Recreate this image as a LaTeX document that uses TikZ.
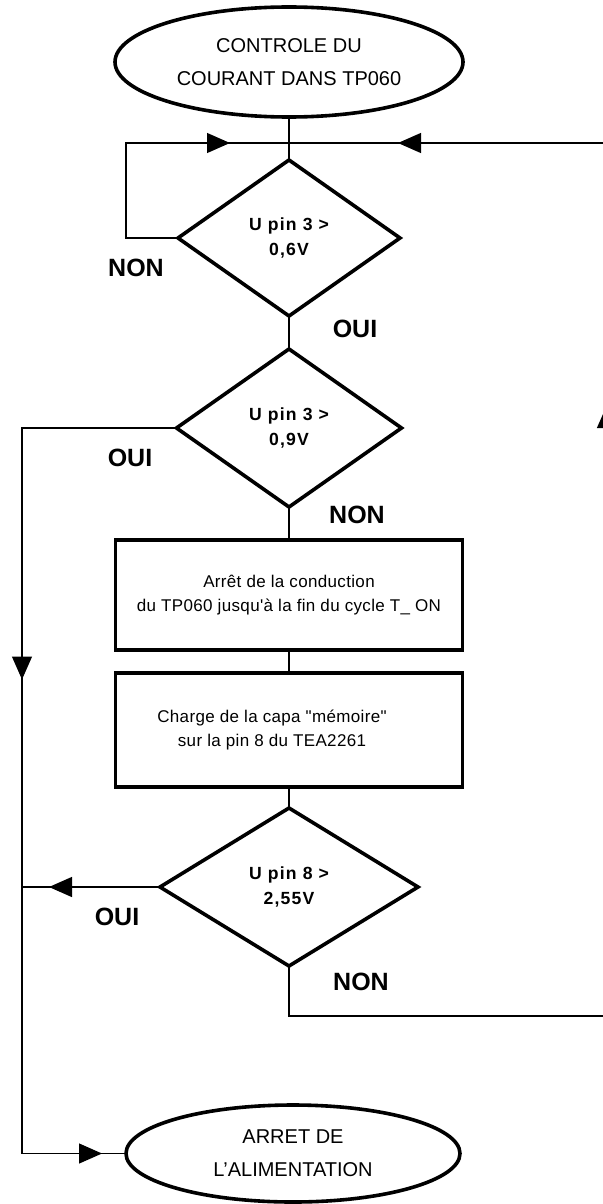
\documentclass[tikz,border=0pt]{standalone}
\usepackage{fontspec}
\setmainfont{Liberation Sans}
\newfontfamily\testfont[LetterSpace=7]{Liberation Sans}
\newfontfamily\boxfont[LetterSpace=2]{Liberation Sans}
\usetikzlibrary{arrows.meta,positioning,shapes.geometric,decorations.markings}

\begin{document}
\begin{tikzpicture}[
      x=0.5pt, y=-0.5pt,
      font=\fontsize{10}{16.5}\selectfont,
      term/.style={draw, ellipse, line width=1.8pt, inner sep=0pt, outer sep=0pt, align=center},
      test/.style={draw, diamond, line width=1.8pt, inner sep=0pt, outer sep=0pt, align=center,
        font=\testfont\bfseries\fontsize{8.8}{12.5}\selectfont},
      box/.style={draw, line width=1.8pt, minimum width=173.5pt, inner sep=0pt, outer sep=0pt,
        align=center, font=\boxfont\fontsize{8.5}{12}\selectfont},
      lbl/.style={font=\bfseries\fontsize{12.5}{15}\selectfont},
      line/.style={line width=0.6pt},
      midarr/.style={postaction={decorate, decoration={markings,
        mark=at position #1 with {\arrow{Triangle[length=11.5pt, width=10pt]}}}}}
    ]
    \useasboundingbox (0,0) rectangle (603,1204);

    \node[term, minimum width=174pt, minimum height=55pt] (start) at (289,62)
      {CONTROLE DU\\COURANT DANS TP060};
    \node[test, minimum width=111pt, minimum height=78pt, below=21.5pt of start] (d1)
      {U pin 3 >\\0,6V};
    \node[test, minimum width=112.5pt, minimum height=79pt, below=16.5pt of d1] (d2)
      {U pin 3 >\\0,9V};
    \node[box, minimum height=55pt, below=16.5pt of d2] (b1)
      {\\[-6pt]Arrêt de la conduction\\du TP060 jusqu'à la fin du cycle T\_ ON};
    \node[box, minimum height=57pt, below=11.5pt of b1] (b2)
      {Charge de la capa "mémoire"\hspace*{17pt}\\sur la pin 8 du TEA2261\hspace*{17pt}};
    \node[test, minimum width=129pt, minimum height=79pt, below=10.5pt of b2] (d3)
      {U pin 8 >\\2,55V};
    \node[term, minimum width=167pt, minimum height=48.5pt, below=69.5pt of d3, xshift=2pt] (stop)
      {ARRET DE\\L'ALIMENTATION};

    % corners of the loops
    \coordinate (j) at (289,143);
    \coordinate (nl) at (126,143);
    \coordinate (rt) at (607,143);
    \coordinate (rb) at (607,1016);
    \coordinate (lt) at (22,428);

    \draw[line] (start) -- (d1);
    \draw[line, midarr=125.5pt] (d1.west) -| (nl) -- (j);
    \draw[line] (d1) -- (d2);
    \draw[line] (d2) -- (b1);
    \draw[line] (b1) -- (b2);
    \draw[line] (b2) -- (d3);
    \draw[line, midarr=203pt, midarr=480pt] (d2.west) -- (lt) -- (lt |- stop.west) -- (stop.west);
    \draw[line, midarr=55.5pt] (d3.west) -- (lt |- d3.west);
    \draw[line, midarr=489.5pt, midarr=725pt] (d3.south) |- (rb) -- (rt) -- (j);

    \node[lbl] (non1) at (136,268) {NON};
    \node[lbl] (oui1) at (355,329) {OUI};
    \node[lbl] (oui2) at (130,458) {OUI};
    \node[lbl] (non2) at (357,515) {NON};
    \node[lbl] (oui3) at (117,917) {OUI};
    \node[lbl] (non3) at (361,982) {NON};
  \end{tikzpicture}
\end{document}
